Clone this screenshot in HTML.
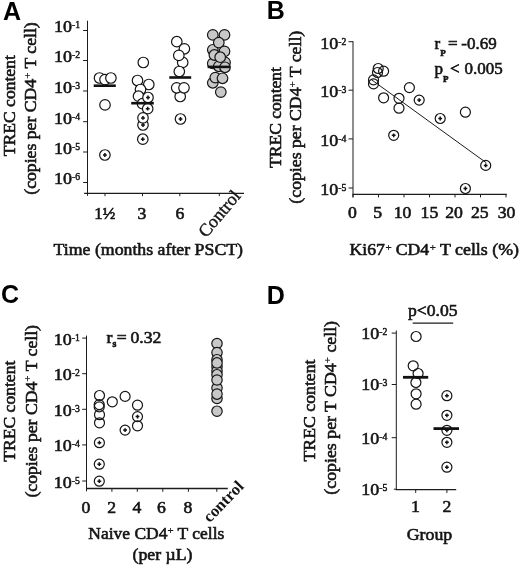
<!DOCTYPE html>
<html><head><meta charset="utf-8"><title>Figure</title>
<style>
html,body{margin:0;padding:0;background:#fff;}
svg{display:block;will-change:transform;filter:grayscale(1);}
text{fill:#151515;stroke:#151515;stroke-width:0.6px;}
text.rot{stroke-width:0.4px;}
text.rotb{stroke:none;}
text.pl{fill:#000;stroke:none;}
</style></head><body>
<svg width="520" height="567" viewBox="0 0 520 567">
<rect width="520" height="567" fill="#fff"/>
<text x="3" y="20.2" font-size="25" text-anchor="start" font-family='"Liberation Sans", sans-serif' font-weight="bold" class="pl">A</text>
<line x1="87.5" y1="20.7" x2="87.5" y2="195.79999999999998" stroke="#1c1c1c" stroke-width="1.0"/>
<line x1="84.1" y1="193.29999999999998" x2="244" y2="193.29999999999998" stroke="#1c1c1c" stroke-width="1.3"/>
<line x1="83.1" y1="30.5" x2="87.5" y2="30.5" stroke="#1c1c1c" stroke-width="1.0"/>
<text transform="translate(53.9,32.3) scale(1.03,1)" font-size="17.5" font-family='"Liberation Serif", serif'>10<tspan font-size="9.4" dx="0" dy="-4.0" style="stroke-width:0.45px">-1</tspan></text>
<line x1="83.1" y1="60.5" x2="87.5" y2="60.5" stroke="#1c1c1c" stroke-width="1.0"/>
<text transform="translate(53.9,62.3) scale(1.03,1)" font-size="17.5" font-family='"Liberation Serif", serif'>10<tspan font-size="9.4" dx="0" dy="-4.0" style="stroke-width:0.45px">-2</tspan></text>
<line x1="83.1" y1="91" x2="87.5" y2="91" stroke="#1c1c1c" stroke-width="1.0"/>
<text transform="translate(53.9,92.8) scale(1.03,1)" font-size="17.5" font-family='"Liberation Serif", serif'>10<tspan font-size="9.4" dx="0" dy="-4.0" style="stroke-width:0.45px">-3</tspan></text>
<line x1="83.1" y1="121.7" x2="87.5" y2="121.7" stroke="#1c1c1c" stroke-width="1.0"/>
<text transform="translate(53.9,123.5) scale(1.03,1)" font-size="17.5" font-family='"Liberation Serif", serif'>10<tspan font-size="9.4" dx="0" dy="-4.0" style="stroke-width:0.45px">-4</tspan></text>
<line x1="83.1" y1="152" x2="87.5" y2="152" stroke="#1c1c1c" stroke-width="1.0"/>
<text transform="translate(53.9,153.8) scale(1.03,1)" font-size="17.5" font-family='"Liberation Serif", serif'>10<tspan font-size="9.4" dx="0" dy="-4.0" style="stroke-width:0.45px">-5</tspan></text>
<line x1="83.1" y1="182.5" x2="87.5" y2="182.5" stroke="#1c1c1c" stroke-width="1.0"/>
<text transform="translate(53.9,184.3) scale(1.03,1)" font-size="17.5" font-family='"Liberation Serif", serif'>10<tspan font-size="9.4" dx="0" dy="-4.0" style="stroke-width:0.45px">-6</tspan></text>
<line x1="105" y1="193.2" x2="105" y2="196.2" stroke="#1c1c1c" stroke-width="1.0"/>
<line x1="142.5" y1="193.2" x2="142.5" y2="196.2" stroke="#1c1c1c" stroke-width="1.0"/>
<line x1="179.8" y1="193.2" x2="179.8" y2="196.2" stroke="#1c1c1c" stroke-width="1.0"/>
<line x1="219.3" y1="193.2" x2="219.3" y2="196.2" stroke="#1c1c1c" stroke-width="1.0"/>
<text transform="translate(15,105.7) rotate(-90)" font-size="17" text-anchor="middle" font-family='"Liberation Serif", serif' textLength="101" lengthAdjust="spacingAndGlyphs">TREC content</text>
<text transform="translate(36.0,108.5) rotate(-90)" font-size="17" text-anchor="middle" font-family='"Liberation Serif", serif' textLength="172.5" lengthAdjust="spacingAndGlyphs">(copies per CD4<tspan font-size="10.5" dy="-5.5" style="stroke-width:0.3px">+</tspan><tspan dy="5.5"> </tspan>T cell)</text>
<text x="104.8" y="218.6" font-size="17" text-anchor="middle" font-family='"Liberation Serif", serif' font-weight="normal" textLength="21" lengthAdjust="spacingAndGlyphs" >1½</text>
<text transform="translate(141.9,218.6) scale(1.04,1)" font-size="17" text-anchor="middle" font-family='"Liberation Serif", serif' font-weight="normal" >3</text>
<text transform="translate(179.9,218.6) scale(1.04,1)" font-size="17" text-anchor="middle" font-family='"Liberation Serif", serif' font-weight="normal" >6</text>
<text class="rot" transform="translate(241.5,196.3) rotate(-50)" font-size="18" text-anchor="end" font-family='"Liberation Serif", serif'>Control</text>
<text x="148.3" y="254.8" font-size="17" text-anchor="middle" font-family='"Liberation Serif", serif' font-weight="normal" textLength="189.5" lengthAdjust="spacingAndGlyphs" >Time (months after PSCT)</text>
<circle cx="99.5" cy="78" r="5.25" fill="#fff" stroke="#151515" stroke-width="1.2"/>
<circle cx="105" cy="79.6" r="5.25" fill="#fff" stroke="#151515" stroke-width="1.2"/>
<circle cx="110.9" cy="78" r="5.25" fill="#fff" stroke="#151515" stroke-width="1.2"/>
<circle cx="105" cy="104.9" r="5.25" fill="#fff" stroke="#151515" stroke-width="1.2"/>
<circle cx="104.9" cy="155" r="5.25" fill="#fff" stroke="#151515" stroke-width="1.2"/>
<path d="M103.0 155H106.80000000000001M104.9 153.1V156.9" stroke="#111" stroke-width="1.5" fill="none"/>
<line x1="93.7" y1="85.7" x2="115.8" y2="85.7" stroke="#111" stroke-width="2.6"/>
<circle cx="143.3" cy="62.5" r="5.25" fill="#fff" stroke="#151515" stroke-width="1.2"/>
<circle cx="137.5" cy="80.5" r="5.25" fill="#fff" stroke="#151515" stroke-width="1.2"/>
<circle cx="148.8" cy="84.5" r="5.25" fill="#fff" stroke="#151515" stroke-width="1.2"/>
<circle cx="140.5" cy="89.5" r="5.25" fill="#fff" stroke="#151515" stroke-width="1.2"/>
<circle cx="138.5" cy="96.2" r="5.25" fill="#fff" stroke="#151515" stroke-width="1.2"/>
<circle cx="142.5" cy="103.7" r="5.25" fill="#fff" stroke="#151515" stroke-width="1.2"/>
<circle cx="148" cy="97.5" r="5.25" fill="#fff" stroke="#151515" stroke-width="1.2"/>
<path d="M146.1 97.5H149.9M148 95.6V99.4" stroke="#111" stroke-width="1.5" fill="none"/>
<circle cx="147.7" cy="108.7" r="5.25" fill="#fff" stroke="#151515" stroke-width="1.2"/>
<path d="M145.79999999999998 108.7H149.6M147.7 106.8V110.60000000000001" stroke="#111" stroke-width="1.5" fill="none"/>
<circle cx="143" cy="125" r="5.25" fill="#fff" stroke="#151515" stroke-width="1.2"/>
<path d="M141.1 125H144.9M143 123.1V126.9" stroke="#111" stroke-width="1.5" fill="none"/>
<circle cx="143" cy="117.9" r="5.25" fill="#fff" stroke="#151515" stroke-width="1.2"/>
<path d="M141.1 117.9H144.9M143 116.0V119.80000000000001" stroke="#111" stroke-width="1.5" fill="none"/>
<circle cx="142.8" cy="139.2" r="5.25" fill="#fff" stroke="#151515" stroke-width="1.2"/>
<path d="M140.9 139.2H144.70000000000002M142.8 137.29999999999998V141.1" stroke="#111" stroke-width="1.5" fill="none"/>
<line x1="131.2" y1="103.2" x2="153.8" y2="103.2" stroke="#111" stroke-width="2.6"/>
<circle cx="176.8" cy="41.7" r="5.25" fill="#fff" stroke="#151515" stroke-width="1.2"/>
<circle cx="184.4" cy="48.8" r="5.25" fill="#fff" stroke="#151515" stroke-width="1.2"/>
<circle cx="182.7" cy="62.4" r="5.25" fill="#fff" stroke="#151515" stroke-width="1.2"/>
<circle cx="178.8" cy="55.4" r="5.25" fill="#fff" stroke="#151515" stroke-width="1.2"/>
<circle cx="179.3" cy="71.5" r="5.25" fill="#fff" stroke="#151515" stroke-width="1.2"/>
<circle cx="180.2" cy="96.5" r="5.25" fill="#fff" stroke="#151515" stroke-width="1.2"/>
<circle cx="176.7" cy="87.8" r="5.25" fill="#fff" stroke="#151515" stroke-width="1.2"/>
<circle cx="184" cy="87.8" r="5.25" fill="#fff" stroke="#151515" stroke-width="1.2"/>
<circle cx="180.5" cy="119" r="5.25" fill="#fff" stroke="#151515" stroke-width="1.2"/>
<path d="M178.6 119H182.4M180.5 117.1V120.9" stroke="#111" stroke-width="1.5" fill="none"/>
<line x1="169.3" y1="77.5" x2="191.2" y2="77.5" stroke="#111" stroke-width="2.6"/>
<circle cx="212.8" cy="82.8" r="5.3" fill="#c8c8c8" stroke="#151515" stroke-width="1.2"/>
<circle cx="212.8" cy="63.4" r="5.3" fill="#c8c8c8" stroke="#151515" stroke-width="1.2"/>
<circle cx="225" cy="62.4" r="5.3" fill="#c8c8c8" stroke="#151515" stroke-width="1.2"/>
<circle cx="218.8" cy="66.3" r="5.3" fill="#c8c8c8" stroke="#151515" stroke-width="1.2"/>
<circle cx="225" cy="67.3" r="5.3" fill="#c8c8c8" stroke="#151515" stroke-width="1.2"/>
<circle cx="212.8" cy="49.8" r="5.3" fill="#c8c8c8" stroke="#151515" stroke-width="1.2"/>
<circle cx="212.8" cy="34.9" r="5.3" fill="#c8c8c8" stroke="#151515" stroke-width="1.2"/>
<circle cx="224.5" cy="34.9" r="5.3" fill="#c8c8c8" stroke="#151515" stroke-width="1.2"/>
<circle cx="218.8" cy="42.6" r="5.3" fill="#c8c8c8" stroke="#151515" stroke-width="1.2"/>
<circle cx="224.5" cy="51.4" r="5.3" fill="#c8c8c8" stroke="#151515" stroke-width="1.2"/>
<circle cx="214.4" cy="55" r="5.3" fill="#c8c8c8" stroke="#151515" stroke-width="1.2"/>
<circle cx="220.2" cy="57.2" r="5.3" fill="#c8c8c8" stroke="#151515" stroke-width="1.2"/>
<circle cx="215.3" cy="77.6" r="5.3" fill="#c8c8c8" stroke="#151515" stroke-width="1.2"/>
<circle cx="222.5" cy="78.3" r="5.3" fill="#c8c8c8" stroke="#151515" stroke-width="1.2"/>
<circle cx="220.8" cy="92.1" r="5.3" fill="#c8c8c8" stroke="#151515" stroke-width="1.2"/>
<line x1="207.6" y1="66.9" x2="230" y2="66.9" stroke="#111" stroke-width="2.6"/>
<text x="266.7" y="19.4" font-size="25" text-anchor="start" font-family='"Liberation Sans", sans-serif' font-weight="bold" class="pl">B</text>
<line x1="353" y1="41.2" x2="353" y2="197.4" stroke="#1c1c1c" stroke-width="1.0"/>
<line x1="352.5" y1="194.4" x2="506.8" y2="194.4" stroke="#1c1c1c" stroke-width="1.3"/>
<line x1="348.5" y1="41.7" x2="353" y2="41.7" stroke="#1c1c1c" stroke-width="1.0"/>
<text transform="translate(320.2,48.5) scale(1.03,1)" font-size="17.5" font-family='"Liberation Serif", serif'>10<tspan font-size="9.4" dx="0" dy="-4.0" style="stroke-width:0.45px">-2</tspan></text>
<line x1="348.5" y1="90.2" x2="353" y2="90.2" stroke="#1c1c1c" stroke-width="1.0"/>
<text transform="translate(320.2,97.0) scale(1.03,1)" font-size="17.5" font-family='"Liberation Serif", serif'>10<tspan font-size="9.4" dx="0" dy="-4.0" style="stroke-width:0.45px">-3</tspan></text>
<line x1="348.5" y1="138.9" x2="353" y2="138.9" stroke="#1c1c1c" stroke-width="1.0"/>
<text transform="translate(320.2,145.70000000000002) scale(1.03,1)" font-size="17.5" font-family='"Liberation Serif", serif'>10<tspan font-size="9.4" dx="0" dy="-4.0" style="stroke-width:0.45px">-4</tspan></text>
<line x1="348.5" y1="188" x2="353" y2="188" stroke="#1c1c1c" stroke-width="1.0"/>
<text transform="translate(320.2,194.8) scale(1.03,1)" font-size="17.5" font-family='"Liberation Serif", serif'>10<tspan font-size="9.4" dx="0" dy="-4.0" style="stroke-width:0.45px">-5</tspan></text>
<line x1="353.0" y1="194.4" x2="353.0" y2="197.4" stroke="#1c1c1c" stroke-width="1.0"/>
<text transform="translate(352.4,217.8) scale(1.04,1)" font-size="17" text-anchor="middle" font-family='"Liberation Serif", serif' font-weight="normal" >0</text>
<line x1="378.5" y1="194.4" x2="378.5" y2="197.4" stroke="#1c1c1c" stroke-width="1.0"/>
<text transform="translate(377.6,217.8) scale(1.04,1)" font-size="17" text-anchor="middle" font-family='"Liberation Serif", serif' font-weight="normal" >5</text>
<line x1="404.0" y1="194.4" x2="404.0" y2="197.4" stroke="#1c1c1c" stroke-width="1.0"/>
<text transform="translate(402.5,217.8) scale(1.04,1)" font-size="17" text-anchor="middle" font-family='"Liberation Serif", serif' font-weight="normal" >10</text>
<line x1="429.5" y1="194.4" x2="429.5" y2="197.4" stroke="#1c1c1c" stroke-width="1.0"/>
<text transform="translate(429.4,217.8) scale(1.04,1)" font-size="17" text-anchor="middle" font-family='"Liberation Serif", serif' font-weight="normal" >15</text>
<line x1="455.0" y1="194.4" x2="455.0" y2="197.4" stroke="#1c1c1c" stroke-width="1.0"/>
<text transform="translate(454,217.8) scale(1.04,1)" font-size="17" text-anchor="middle" font-family='"Liberation Serif", serif' font-weight="normal" >20</text>
<line x1="480.5" y1="194.4" x2="480.5" y2="197.4" stroke="#1c1c1c" stroke-width="1.0"/>
<text transform="translate(479.7,217.8) scale(1.04,1)" font-size="17" text-anchor="middle" font-family='"Liberation Serif", serif' font-weight="normal" >25</text>
<line x1="506.0" y1="194.4" x2="506.0" y2="197.4" stroke="#1c1c1c" stroke-width="1.0"/>
<text transform="translate(506.5,217.8) scale(1.04,1)" font-size="17" text-anchor="middle" font-family='"Liberation Serif", serif' font-weight="normal" >30</text>
<text transform="translate(281,117.5) rotate(-90)" font-size="17" text-anchor="middle" font-family='"Liberation Serif", serif' textLength="101" lengthAdjust="spacingAndGlyphs">TREC content</text>
<text transform="translate(301.4,117.2) rotate(-90)" font-size="17" text-anchor="middle" font-family='"Liberation Serif", serif' textLength="172.9" lengthAdjust="spacingAndGlyphs">(copies per CD4<tspan font-size="10.5" dy="-5.5" style="stroke-width:0.3px">+</tspan><tspan dy="5.5"> </tspan>T cell)</text>
<text transform="translate(349.6,255.3) scale(1.04,1)" font-size="17" text-anchor="start" font-family='"Liberation Serif", serif' font-weight="normal" >Ki67<tspan font-size="10.5" dx="0.6" dy="-4" style="stroke-width:0.3px">+</tspan></text>
<text transform="translate(395.7,255.3) scale(1.04,1)" font-size="17" text-anchor="start" font-family='"Liberation Serif", serif' font-weight="normal" >CD4<tspan font-size="10.5" dx="0.6" dy="-4" style="stroke-width:0.3px">+</tspan></text>
<text x="440" y="255.3" font-size="17" text-anchor="start" font-family='"Liberation Serif", serif' font-weight="normal" textLength="79" lengthAdjust="spacingAndGlyphs" >T cells (%)</text>
<line x1="370.8" y1="79.2" x2="486.3" y2="162.8" stroke="#1c1c1c" stroke-width="1.0"/>
<circle cx="378.2" cy="68.5" r="5.0" fill="none" stroke="#151515" stroke-width="1.2"/>
<circle cx="383.6" cy="71.2" r="5.0" fill="none" stroke="#151515" stroke-width="1.2"/>
<circle cx="377.5" cy="72.5" r="5.0" fill="none" stroke="#151515" stroke-width="1.2"/>
<circle cx="373.5" cy="79.9" r="5.0" fill="none" stroke="#151515" stroke-width="1.2"/>
<circle cx="373.5" cy="83.9" r="5.0" fill="none" stroke="#151515" stroke-width="1.2"/>
<circle cx="383.6" cy="97.8" r="5.0" fill="none" stroke="#151515" stroke-width="1.2"/>
<circle cx="409.4" cy="87.6" r="5.0" fill="none" stroke="#151515" stroke-width="1.2"/>
<circle cx="399" cy="98.3" r="5.0" fill="none" stroke="#151515" stroke-width="1.2"/>
<circle cx="399" cy="108.2" r="5.0" fill="none" stroke="#151515" stroke-width="1.2"/>
<circle cx="465.4" cy="112.2" r="5.0" fill="none" stroke="#151515" stroke-width="1.2"/>
<circle cx="419.2" cy="100.1" r="5.0" fill="none" stroke="#151515" stroke-width="1.2"/>
<path d="M417.3 100.1H421.09999999999997M419.2 98.19999999999999V102.0" stroke="#111" stroke-width="1.5" fill="none"/>
<circle cx="440.2" cy="118.5" r="5.0" fill="none" stroke="#151515" stroke-width="1.2"/>
<path d="M438.3 118.5H442.09999999999997M440.2 116.6V120.4" stroke="#111" stroke-width="1.5" fill="none"/>
<circle cx="393.7" cy="135.3" r="5.0" fill="none" stroke="#151515" stroke-width="1.2"/>
<path d="M391.8 135.3H395.59999999999997M393.7 133.4V137.20000000000002" stroke="#111" stroke-width="1.5" fill="none"/>
<circle cx="485.7" cy="165.4" r="5.0" fill="none" stroke="#151515" stroke-width="1.2"/>
<path d="M483.8 165.4H487.59999999999997M485.7 163.5V167.3" stroke="#111" stroke-width="1.5" fill="none"/>
<circle cx="465.4" cy="188.5" r="5.0" fill="none" stroke="#151515" stroke-width="1.2"/>
<path d="M463.5 188.5H467.29999999999995M465.4 186.6V190.4" stroke="#111" stroke-width="1.5" fill="none"/>
<text transform="translate(434.5,49.2) scale(1.0,1)" font-size="17" font-family='"Liberation Serif", serif'>r<tspan font-size="9" font-weight="bold" dy="6.5">P</tspan><tspan dy="-6.5" dx="2.4">=</tspan><tspan dx="3.6">-0.69</tspan></text>
<text transform="translate(434.5,74.4) scale(1.0,1)" font-size="17" font-family='"Liberation Serif", serif'>p<tspan font-size="9" font-weight="bold" dy="7.5">P</tspan><tspan dy="-7.5" dx="1.6">&lt;</tspan><tspan dx="4.8">0.005</tspan></text>
<text x="1.1" y="303.4" font-size="25" text-anchor="start" font-family='"Liberation Sans", sans-serif' font-weight="bold" class="pl">C</text>
<line x1="86.5" y1="335.6" x2="86.5" y2="491.3" stroke="#1c1c1c" stroke-width="1.0"/>
<line x1="86.0" y1="488.5" x2="227.8" y2="488.5" stroke="#1c1c1c" stroke-width="1.3"/>
<line x1="82.2" y1="338.1" x2="86.5" y2="338.1" stroke="#1c1c1c" stroke-width="1.0"/>
<text transform="translate(53.8,344.6) scale(1.03,1)" font-size="17.5" font-family='"Liberation Serif", serif'>10<tspan font-size="9.4" dx="0" dy="-4.0" style="stroke-width:0.45px">-1</tspan></text>
<line x1="82.2" y1="373.7" x2="86.5" y2="373.7" stroke="#1c1c1c" stroke-width="1.0"/>
<text transform="translate(53.8,380.2) scale(1.03,1)" font-size="17.5" font-family='"Liberation Serif", serif'>10<tspan font-size="9.4" dx="0" dy="-4.0" style="stroke-width:0.45px">-2</tspan></text>
<line x1="82.2" y1="409.3" x2="86.5" y2="409.3" stroke="#1c1c1c" stroke-width="1.0"/>
<text transform="translate(53.8,415.8) scale(1.03,1)" font-size="17.5" font-family='"Liberation Serif", serif'>10<tspan font-size="9.4" dx="0" dy="-4.0" style="stroke-width:0.45px">-3</tspan></text>
<line x1="82.2" y1="444.9" x2="86.5" y2="444.9" stroke="#1c1c1c" stroke-width="1.0"/>
<text transform="translate(53.8,451.4) scale(1.03,1)" font-size="17.5" font-family='"Liberation Serif", serif'>10<tspan font-size="9.4" dx="0" dy="-4.0" style="stroke-width:0.45px">-4</tspan></text>
<line x1="82.2" y1="481" x2="86.5" y2="481" stroke="#1c1c1c" stroke-width="1.0"/>
<text transform="translate(53.8,487.5) scale(1.03,1)" font-size="17.5" font-family='"Liberation Serif", serif'>10<tspan font-size="9.4" dx="0" dy="-4.0" style="stroke-width:0.45px">-5</tspan></text>
<line x1="111.9" y1="488.5" x2="111.9" y2="491.8" stroke="#1c1c1c" stroke-width="1.0"/>
<line x1="137.3" y1="488.5" x2="137.3" y2="491.8" stroke="#1c1c1c" stroke-width="1.0"/>
<line x1="162.8" y1="488.5" x2="162.8" y2="491.8" stroke="#1c1c1c" stroke-width="1.0"/>
<line x1="188.4" y1="488.5" x2="188.4" y2="491.8" stroke="#1c1c1c" stroke-width="1.0"/>
<line x1="216.8" y1="488.5" x2="216.8" y2="491.8" stroke="#1c1c1c" stroke-width="1.0"/>
<text transform="translate(86,512.5) scale(1.04,1)" font-size="17" text-anchor="middle" font-family='"Liberation Serif", serif' font-weight="normal" >0</text>
<text transform="translate(111.6,512.5) scale(1.04,1)" font-size="17" text-anchor="middle" font-family='"Liberation Serif", serif' font-weight="normal" >2</text>
<text transform="translate(136.8,512.5) scale(1.04,1)" font-size="17" text-anchor="middle" font-family='"Liberation Serif", serif' font-weight="normal" >4</text>
<text transform="translate(161.4,512.5) scale(1.04,1)" font-size="17" text-anchor="middle" font-family='"Liberation Serif", serif' font-weight="normal" >6</text>
<text transform="translate(187.8,512.5) scale(1.04,1)" font-size="17" text-anchor="middle" font-family='"Liberation Serif", serif' font-weight="normal" >8</text>
<text transform="translate(15,411.2) rotate(-90)" font-size="17" text-anchor="middle" font-family='"Liberation Serif", serif' textLength="101" lengthAdjust="spacingAndGlyphs">TREC content</text>
<text transform="translate(36.9,411.3) rotate(-90)" font-size="17" text-anchor="middle" font-family='"Liberation Serif", serif' textLength="172.6" lengthAdjust="spacingAndGlyphs">(copies per CD4<tspan font-size="10.5" dy="-5.5" style="stroke-width:0.3px">+</tspan><tspan dy="5.5"> </tspan>T cell)</text>
<text class="rotb" transform="translate(244.6,487.3) rotate(-46)" font-size="16.5" font-weight="bold" text-anchor="end" font-family='"Liberation Serif", serif'>control</text>
<text x="88.3" y="539.2" font-size="17" text-anchor="start" font-family='"Liberation Serif", serif' font-weight="normal" textLength="136" lengthAdjust="spacingAndGlyphs" >Naive CD4<tspan font-size="10.5" dy="-5.5" style="stroke-width:0.3px">+</tspan><tspan dy="5.5"> </tspan>T cells</text>
<text x="132.5" y="560.1" font-size="17" text-anchor="start" font-family='"Liberation Serif", serif' font-weight="normal" textLength="60" lengthAdjust="spacingAndGlyphs" >(per µL)</text>
<text transform="translate(106.5,342.9) scale(1.04,1)" font-size="17" font-family='"Liberation Serif", serif'>r<tspan font-size="9.5" font-weight="bold" dy="4.3">s</tspan><tspan dy="-4.3" dx="0.5">=</tspan><tspan dx="3.6">0.32</tspan></text>
<circle cx="99.5" cy="395.5" r="5.0" fill="none" stroke="#151515" stroke-width="1.2"/>
<circle cx="99.2" cy="404.6" r="5.0" fill="none" stroke="#151515" stroke-width="1.2"/>
<circle cx="99.2" cy="406.9" r="5.0" fill="none" stroke="#151515" stroke-width="1.2"/>
<circle cx="99.5" cy="414.7" r="5.0" fill="none" stroke="#151515" stroke-width="1.2"/>
<circle cx="99.5" cy="422.8" r="5.0" fill="none" stroke="#151515" stroke-width="1.2"/>
<circle cx="112.3" cy="401.8" r="5.0" fill="none" stroke="#151515" stroke-width="1.2"/>
<circle cx="125.1" cy="396.4" r="5.0" fill="none" stroke="#151515" stroke-width="1.2"/>
<circle cx="137.5" cy="405.2" r="5.0" fill="none" stroke="#151515" stroke-width="1.2"/>
<circle cx="137.5" cy="425.8" r="5.0" fill="none" stroke="#151515" stroke-width="1.2"/>
<circle cx="137.5" cy="416.6" r="5.0" fill="none" stroke="#151515" stroke-width="1.2"/>
<path d="M135.6 416.6H139.4M137.5 414.70000000000005V418.5" stroke="#111" stroke-width="1.5" fill="none"/>
<circle cx="125.1" cy="430.1" r="5.0" fill="none" stroke="#151515" stroke-width="1.2"/>
<path d="M123.19999999999999 430.1H127.0M125.1 428.20000000000005V432.0" stroke="#111" stroke-width="1.5" fill="none"/>
<circle cx="99.4" cy="442.7" r="5.0" fill="none" stroke="#151515" stroke-width="1.2"/>
<path d="M97.5 442.7H101.30000000000001M99.4 440.8V444.59999999999997" stroke="#111" stroke-width="1.5" fill="none"/>
<circle cx="99.3" cy="464.2" r="5.0" fill="none" stroke="#151515" stroke-width="1.2"/>
<path d="M97.39999999999999 464.2H101.2M99.3 462.3V466.09999999999997" stroke="#111" stroke-width="1.5" fill="none"/>
<circle cx="99.3" cy="481.2" r="5.0" fill="none" stroke="#151515" stroke-width="1.2"/>
<path d="M97.39999999999999 481.2H101.2M99.3 479.3V483.09999999999997" stroke="#111" stroke-width="1.5" fill="none"/>
<circle cx="217" cy="343.5" r="5.2" fill="#c8c8c8" stroke="#151515" stroke-width="1.2"/>
<circle cx="217" cy="352.6" r="5.2" fill="#c8c8c8" stroke="#151515" stroke-width="1.2"/>
<circle cx="217" cy="359.7" r="5.2" fill="#c8c8c8" stroke="#151515" stroke-width="1.2"/>
<circle cx="217" cy="366.7" r="5.2" fill="#c8c8c8" stroke="#151515" stroke-width="1.2"/>
<circle cx="217" cy="371.1" r="5.2" fill="#c8c8c8" stroke="#151515" stroke-width="1.2"/>
<circle cx="217" cy="374.7" r="5.2" fill="#c8c8c8" stroke="#151515" stroke-width="1.2"/>
<circle cx="217" cy="362.9" r="5.2" fill="#c8c8c8" stroke="#151515" stroke-width="1.2"/>
<circle cx="217" cy="387.9" r="5.2" fill="#c8c8c8" stroke="#151515" stroke-width="1.2"/>
<circle cx="217" cy="380" r="5.2" fill="#c8c8c8" stroke="#151515" stroke-width="1.2"/>
<circle cx="217" cy="398.5" r="5.2" fill="#c8c8c8" stroke="#151515" stroke-width="1.2"/>
<circle cx="217" cy="394.1" r="5.2" fill="#c8c8c8" stroke="#151515" stroke-width="1.2"/>
<circle cx="217" cy="411.2" r="5.2" fill="#c8c8c8" stroke="#151515" stroke-width="1.2"/>
<text x="266.7" y="304" font-size="25" text-anchor="start" font-family='"Liberation Sans", sans-serif' font-weight="bold" class="pl">D</text>
<line x1="396.3" y1="330.5" x2="396.3" y2="490.1" stroke="#1c1c1c" stroke-width="1.0"/>
<line x1="395.8" y1="489.6" x2="456.2" y2="489.6" stroke="#1c1c1c" stroke-width="1.3"/>
<line x1="391.7" y1="333.1" x2="396.3" y2="333.1" stroke="#1c1c1c" stroke-width="1.0"/>
<text transform="translate(361.2,339.0) scale(1.03,1)" font-size="17.5" font-family='"Liberation Serif", serif'>10<tspan font-size="9.4" dx="0" dy="-4.0" style="stroke-width:0.45px">-2</tspan></text>
<line x1="391.7" y1="384.5" x2="396.3" y2="384.5" stroke="#1c1c1c" stroke-width="1.0"/>
<text transform="translate(361.2,390.4) scale(1.03,1)" font-size="17.5" font-family='"Liberation Serif", serif'>10<tspan font-size="9.4" dx="0" dy="-4.0" style="stroke-width:0.45px">-3</tspan></text>
<line x1="391.7" y1="437.7" x2="396.3" y2="437.7" stroke="#1c1c1c" stroke-width="1.0"/>
<text transform="translate(361.2,443.59999999999997) scale(1.03,1)" font-size="17.5" font-family='"Liberation Serif", serif'>10<tspan font-size="9.4" dx="0" dy="-4.0" style="stroke-width:0.45px">-4</tspan></text>
<line x1="393.8" y1="489.2" x2="396.3" y2="489.2" stroke="#1c1c1c" stroke-width="1.0"/>
<text transform="translate(361.2,494.7) scale(1.03,1)" font-size="17.5" font-family='"Liberation Serif", serif'>10<tspan font-size="9.4" dx="0" dy="-4.0" style="stroke-width:0.45px">-5</tspan></text>
<line x1="415.7" y1="489.6" x2="415.7" y2="492.90000000000003" stroke="#1c1c1c" stroke-width="1.0"/>
<line x1="446.9" y1="489.6" x2="446.9" y2="492.90000000000003" stroke="#1c1c1c" stroke-width="1.0"/>
<text transform="translate(415.5,512.3) scale(1.04,1)" font-size="17" text-anchor="middle" font-family='"Liberation Serif", serif' font-weight="normal" >1</text>
<text transform="translate(447,512.3) scale(1.04,1)" font-size="17" text-anchor="middle" font-family='"Liberation Serif", serif' font-weight="normal" >2</text>
<text x="429.5" y="540" font-size="17" text-anchor="middle" font-family='"Liberation Serif", serif' font-weight="normal" textLength="45.5" lengthAdjust="spacingAndGlyphs" >Group</text>
<text transform="translate(314.8,410.5) rotate(-90)" font-size="17" text-anchor="middle" font-family='"Liberation Serif", serif' textLength="102" lengthAdjust="spacingAndGlyphs">TREC content</text>
<text transform="translate(336,407.8) rotate(-90)" font-size="17" text-anchor="middle" font-family='"Liberation Serif", serif' textLength="173.7" lengthAdjust="spacingAndGlyphs">(copies per T CD4<tspan font-size="10.5" dy="-5.5" style="stroke-width:0.3px">+</tspan><tspan dy="5.5"> </tspan>cell)</text>
<text x="408" y="316.2" font-size="17" text-anchor="start" font-family='"Liberation Serif", serif' font-weight="normal" textLength="49.5" lengthAdjust="spacingAndGlyphs" >p&lt;0.05</text>
<line x1="412.7" y1="323.1" x2="453.2" y2="323.1" stroke="#1c1c1c" stroke-width="1.3"/>
<circle cx="416.1" cy="336.5" r="5.0" fill="none" stroke="#151515" stroke-width="1.2"/>
<circle cx="413.2" cy="365.8" r="5.0" fill="none" stroke="#151515" stroke-width="1.2"/>
<circle cx="418.1" cy="373.5" r="5.0" fill="none" stroke="#151515" stroke-width="1.2"/>
<circle cx="415.9" cy="382.5" r="5.0" fill="none" stroke="#151515" stroke-width="1.2"/>
<circle cx="416.1" cy="393.8" r="5.0" fill="none" stroke="#151515" stroke-width="1.2"/>
<circle cx="416.1" cy="404.2" r="5.0" fill="none" stroke="#151515" stroke-width="1.2"/>
<line x1="403" y1="377.3" x2="428.2" y2="377.3" stroke="#111" stroke-width="2.8"/>
<circle cx="446.9" cy="395.7" r="5.0" fill="none" stroke="#151515" stroke-width="1.2"/>
<path d="M445.0 395.7H448.79999999999995M446.9 393.8V397.59999999999997" stroke="#111" stroke-width="1.5" fill="none"/>
<circle cx="446.9" cy="415.3" r="5.0" fill="none" stroke="#151515" stroke-width="1.2"/>
<path d="M445.0 415.3H448.79999999999995M446.9 413.40000000000003V417.2" stroke="#111" stroke-width="1.5" fill="none"/>
<circle cx="446.9" cy="430.3" r="5.0" fill="none" stroke="#151515" stroke-width="1.2"/>
<path d="M445.0 430.3H448.79999999999995M446.9 428.40000000000003V432.2" stroke="#111" stroke-width="1.5" fill="none"/>
<circle cx="446.9" cy="442.3" r="5.0" fill="none" stroke="#151515" stroke-width="1.2"/>
<path d="M445.0 442.3H448.79999999999995M446.9 440.40000000000003V444.2" stroke="#111" stroke-width="1.5" fill="none"/>
<circle cx="446.9" cy="467.2" r="5.0" fill="none" stroke="#151515" stroke-width="1.2"/>
<path d="M445.0 467.2H448.79999999999995M446.9 465.3V469.09999999999997" stroke="#111" stroke-width="1.5" fill="none"/>
<line x1="433.5" y1="428.6" x2="459" y2="428.6" stroke="#111" stroke-width="2.8"/>
</svg>
</body></html>
